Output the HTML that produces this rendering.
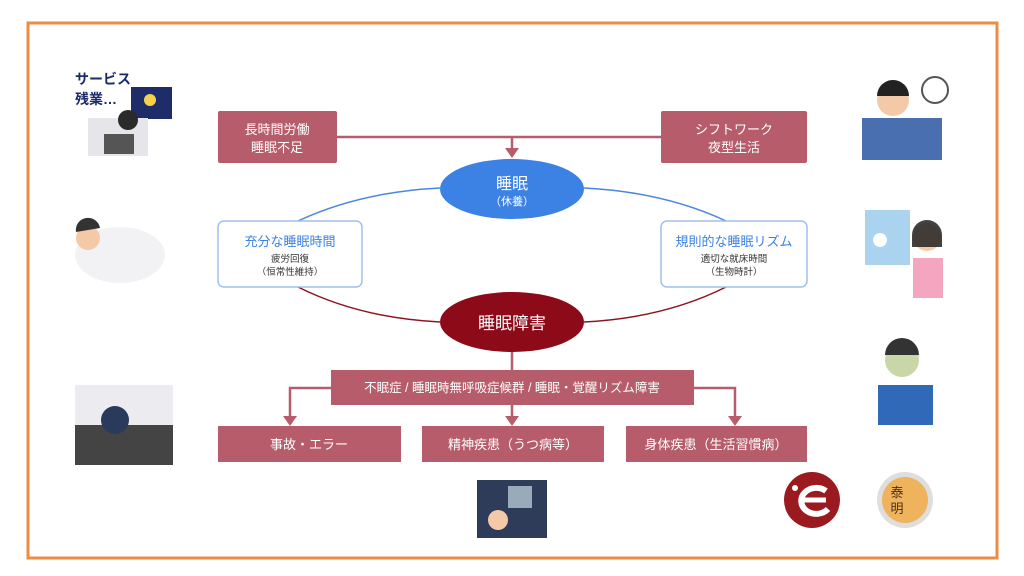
<!DOCTYPE html>
<html><head><meta charset="utf-8"><style>
body{margin:0;background:#fff;}
svg{display:block;font-family:"Liberation Sans","Noto Sans CJK JP",sans-serif;}
</style></head><body>
<svg width="1024" height="576" viewBox="0 0 1024 576">
<rect x="0" y="0" width="1024" height="576" fill="#fff"/>
<rect x="28" y="23" width="969" height="535" fill="none" stroke="#ec8c45" stroke-width="3"/>
<line x1="337" y1="137" x2="661" y2="137" stroke="#b65c6b" stroke-width="2.5"/>
<line x1="512" y1="137" x2="512" y2="150" stroke="#b65c6b" stroke-width="2.5"/>
<polygon points="505,148 519,148 512,158" fill="#b65c6b"/>
<path d="M298,221 Q360,192 440,188" fill="none" stroke="#4a86e0" stroke-width="1.5"/>
<path d="M726,221 Q664,192 584,188" fill="none" stroke="#4a86e0" stroke-width="1.5"/>
<path d="M298,287 Q360,318 440,322" fill="none" stroke="#8d1420" stroke-width="1.5"/>
<path d="M726,287 Q664,318 584,322" fill="none" stroke="#8d1420" stroke-width="1.5"/>
<line x1="512" y1="350" x2="512" y2="372" stroke="#b65c6b" stroke-width="2.5"/>
<path d="M331,388 H290 V418" fill="none" stroke="#b65c6b" stroke-width="2.5"/>
<polygon points="283,416 297,416 290,426" fill="#b65c6b"/>
<path d="M694,388 H735 V418" fill="none" stroke="#b65c6b" stroke-width="2.5"/>
<polygon points="728,416 742,416 735,426" fill="#b65c6b"/>
<line x1="512" y1="405" x2="512" y2="418" stroke="#b65c6b" stroke-width="2.5"/>
<polygon points="505,416 519,416 512,426" fill="#b65c6b"/>
<rect x="218" y="111" width="119" height="52" rx="2" fill="#b65c6b"/>
<text x="277" y="134" fill="#fff" font-size="13" text-anchor="middle">長時間労働</text>
<text x="277" y="152" fill="#fff" font-size="13" text-anchor="middle">睡眠不足</text>
<rect x="661" y="111" width="146" height="52" rx="2" fill="#b65c6b"/>
<text x="734" y="134" fill="#fff" font-size="13" text-anchor="middle">シフトワーク</text>
<text x="734" y="152" fill="#fff" font-size="13" text-anchor="middle">夜型生活</text>
<ellipse cx="512" cy="189" rx="72" ry="30" fill="#3b82e4"/>
<text x="512" y="189" fill="#fff" font-size="16" text-anchor="middle">睡眠</text>
<text x="512" y="205" fill="#fff" font-size="11" text-anchor="middle">（休養）</text>
<rect x="218" y="221" width="144" height="66" rx="6" fill="#fff" stroke="#9fc0ee" stroke-width="1.5"/>
<text x="290" y="246" fill="#3b82e4" font-size="13" text-anchor="middle">充分な睡眠時間</text>
<text x="290" y="262" fill="#333" font-size="9.5" text-anchor="middle">疲労回復</text>
<text x="290" y="275" fill="#333" font-size="9.5" text-anchor="middle">（恒常性維持）</text>
<rect x="661" y="221" width="146" height="66" rx="6" fill="#fff" stroke="#9fc0ee" stroke-width="1.5"/>
<text x="734" y="246" fill="#3b82e4" font-size="13" text-anchor="middle">規則的な睡眠リズム</text>
<text x="734" y="262" fill="#333" font-size="9.5" text-anchor="middle">適切な就床時間</text>
<text x="734" y="275" fill="#333" font-size="9.5" text-anchor="middle">（生物時計）</text>
<ellipse cx="512" cy="322" rx="72" ry="30" fill="#8d0a18"/>
<text x="512" y="329" fill="#fff" font-size="17" text-anchor="middle">睡眠障害</text>
<rect x="331" y="370" width="363" height="35" fill="#b65c6b"/>
<text x="512" y="392" fill="#fff" font-size="12.5" text-anchor="middle">不眠症 / 睡眠時無呼吸症候群 / 睡眠・覚醒リズム障害</text>
<rect x="218" y="426" width="183" height="36" fill="#b65c6b"/>
<text x="309" y="449" fill="#fff" font-size="13" text-anchor="middle">事故・エラー</text>
<rect x="422" y="426" width="182" height="36" fill="#b65c6b"/>
<text x="513" y="449" fill="#fff" font-size="13" text-anchor="middle">精神疾患（うつ病等）</text>
<rect x="626" y="426" width="181" height="36" fill="#b65c6b"/>
<text x="716" y="449" fill="#fff" font-size="13" text-anchor="middle">身体疾患（生活習慣病）</text>
<text x="75" y="84" fill="#1b2a6b" font-size="14" font-weight="bold">サービス</text>
<text x="75" y="104" fill="#1b2a6b" font-size="14" font-weight="bold">残業…</text>
<rect x="131" y="87" width="41" height="32" fill="#1e2d6a"/>
<circle cx="150" cy="100" r="6" fill="#f4d24a"/>
<rect x="88" y="118" width="60" height="38" fill="#e6e6ea"/>
<circle cx="128" cy="120" r="10" fill="#2a2a2a"/>
<rect x="104" y="134" width="30" height="20" fill="#555"/>
<ellipse cx="120" cy="255" rx="45" ry="28" fill="#f2f2f5"/>
<circle cx="88" cy="238" r="12" fill="#f3c9a8"/>
<path d="M76,232 a12,12 0 0 1 24,-4 z" fill="#333"/>
<rect x="75" y="385" width="98" height="80" fill="#ececf0"/>
<rect x="75" y="425" width="98" height="40" fill="#444"/>
<circle cx="115" cy="420" r="14" fill="#2a3a5a"/>
<circle cx="893" cy="100" r="16" fill="#f3c9a8"/>
<path d="M877,96 a16,16 0 0 1 32,0 z" fill="#222"/>
<circle cx="935" cy="90" r="13" fill="#fff" stroke="#555" stroke-width="2"/>
<rect x="862" y="118" width="80" height="42" fill="#4a6fb0"/>
<rect x="865" y="210" width="45" height="55" fill="#a9d3ef"/>
<circle cx="880" cy="240" r="7" fill="#fff"/>
<circle cx="927" cy="237" r="14" fill="#f3c9a8"/>
<path d="M912,235 a15,15 0 0 1 30,0 v12 h-30 z" fill="#222" opacity="0.85"/>
<rect x="913" y="258" width="30" height="40" fill="#f4a6c0"/>
<circle cx="902" cy="360" r="17" fill="#c9d6a8"/>
<path d="M885,355 a17,17 0 0 1 34,0 z" fill="#333"/>
<rect x="878" y="385" width="55" height="40" fill="#2f69b8"/>
<rect x="477" y="480" width="70" height="58" fill="#2e3c5a"/>
<rect x="508" y="486" width="24" height="22" fill="#9ab"/>
<circle cx="498" cy="520" r="10" fill="#f3c9a8"/>
<circle cx="812" cy="500" r="28" fill="#9b1a1f"/>
<path d="M826,491 a15,13 0 1 0 2,18" fill="none" stroke="#fff" stroke-width="6"/>
<line x1="800" y1="500" x2="826" y2="500" stroke="#fff" stroke-width="5"/>
<circle cx="795" cy="488" r="3" fill="#fff"/>
<circle cx="905" cy="500" r="28" fill="#dedede"/>
<circle cx="905" cy="500" r="23" fill="#efb35e"/>
<text x="897" y="497" fill="#4a3010" font-size="13" text-anchor="middle">泰</text>
<text x="897" y="513" fill="#4a3010" font-size="13" text-anchor="middle">明</text>
</svg>
</body></html>
